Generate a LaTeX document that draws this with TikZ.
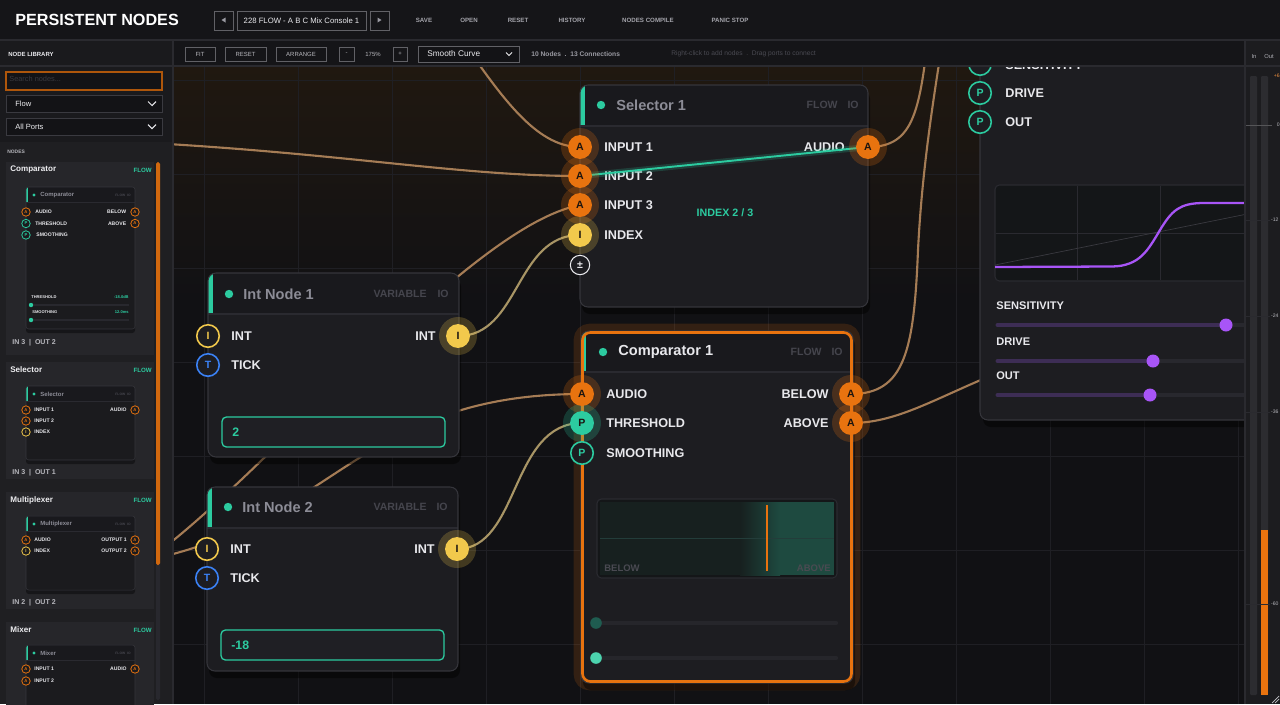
\documentclass[tikz,border=0pt]{standalone}
\usepackage{fontspec}
\setmainfont{Liberation Sans}
\usetikzlibrary{positioning,calc}

\definecolor{cBar}{HTML}{151518}
\definecolor{cLine}{HTML}{2A2A2F}
\definecolor{cCanvas}{HTML}{111114}
\definecolor{cGlow}{HTML}{201810}
\definecolor{cGrid}{HTML}{1F1F24}
\definecolor{cNode}{HTML}{1D1D21}
\definecolor{cHead}{HTML}{19191D}
\definecolor{cBorder}{HTML}{35353B}
\definecolor{cDivider}{HTML}{2A2A30}
\definecolor{cWhite}{HTML}{E8E8EC}
\definecolor{cTitleDim}{HTML}{8C8C96}
\definecolor{cTag}{HTML}{45454D}
\definecolor{cInk}{HTML}{1A1410}
\definecolor{cOrange}{HTML}{E8730F}
\definecolor{cYellow}{HTML}{F2C94C}
\definecolor{cTeal}{HTML}{2CCBA0}
\definecolor{cTealDark}{HTML}{1F5C50}
\definecolor{cBlue}{HTML}{3B82F6}
\definecolor{cPurple}{HTML}{A855F7}
\definecolor{cPurpleDim}{HTML}{3D2D55}
\definecolor{cTrackBg}{HTML}{28282E}
\definecolor{cWire}{HTML}{A57C55}
\definecolor{cWireY}{HTML}{A89565}
\definecolor{cValBg}{HTML}{1F1F24}
\definecolor{cDisp}{HTML}{141618}
\definecolor{cDispIn}{HTML}{17201F}
\definecolor{cDispTeal}{HTML}{1E4A40}
\definecolor{cSide}{HTML}{1A1A1D}
\definecolor{cSideLow}{HTML}{1F1F22}
\definecolor{cCard}{HTML}{26262A}
\definecolor{cMini}{HTML}{1B1B1E}
\definecolor{cField}{HTML}{131316}
\definecolor{cFieldLine}{HTML}{3A3A40}
\definecolor{cGray}{HTML}{9A9AA2}
\definecolor{cDim}{HTML}{4A4A52}
\definecolor{cMeter}{HTML}{1C1C1F}
\definecolor{cMeterBar}{HTML}{2C2C30}

\newcommand\fsz[1]{\fontsize{#1}{#1}\selectfont}
\newcommand\halo[2]{\fill[#1, opacity=.22] (#2) circle[radius=19];}
% node frame: x1, y1, x2, y2, header bottom
\newcommand\nodeframe[5]{%
  \fill[black, opacity=.45, rounded corners=4.5pt] (#1+2,#2+6) rectangle (#3+2,#4+7);
  \begin{scope}
    \clip[rounded corners=4.5pt] (#1,#2) rectangle (#3,#4);
    \fill[cNode] (#1,#2) rectangle (#3,#4);
    \fill[cHead] (#1,#2) rectangle (#3,#5);
    \fill[cTeal] (#1,#2) rectangle (#1+4.5,#5);
    \draw[cDivider, line width=.6pt] (#1,#5) -- (#3,#5);
  \end{scope}
  \draw[cBorder, line width=.6pt, rounded corners=4.5pt] (#1,#2) rectangle (#3,#4);}
% small library preview: x1, y1, x2, y2, title, name
\newcommand\mininode[6]{%
  \fill[black, opacity=.4, rounded corners=1.5pt] (#1,#2+3) rectangle (#3,#4+4);
  \begin{scope}
    \clip[rounded corners=1.5pt] (#1,#2) rectangle (#3,#4);
    \fill[cMini] (#1,#2) rectangle (#3,#4);
    \fill[cHead] (#1,#2) rectangle (#3,#2+15);
    \fill[cTeal] (#1,#2) rectangle (#1+2,#2+15);
    \draw[cDivider, line width=.3pt] (#1,#2+15) -- (#3,#2+15);
  \end{scope}
  \draw[cBorder, line width=.3pt, rounded corners=1.5pt] (#1,#2) rectangle (#3,#4);
  \fill[cTeal] (#1+8,#2+8) circle[radius=1.7];
  \node[mttl] (#6) at (#1+14,#2+8) {#5};
  \node[mtag] (#6-tag) at (#3-4,#2+8) {FLOW\ \ IO};}

\tikzset{
  ttl/.style={anchor=west, inner sep=0, font=\bfseries\fsz{8.3}, text=cTitleDim},
  tag/.style={anchor=east, inner sep=0, font=\bfseries\fsz{6}, text=cTag},
  lbl/.style={anchor=west, inner sep=0, font=\bfseries\fsz{7.2}, text=cWhite},
  lblr/.style={lbl, anchor=east},
  slbl/.style={anchor=west, inner sep=0, font=\bfseries\fsz{6.3}, text=cWhite},
  port/.style={circle, inner sep=0, minimum size=13.6pt, font=\bfseries\fsz{6}},
  porta/.style={port, fill=cOrange, text=cInk},
  portp/.style={port, fill=cTeal, text=cInk},
  porti/.style={port, fill=cYellow, text=cInk},
  ringp/.style={port, draw=cTeal, line width=.9pt, fill=cNode, text=cTeal, minimum size=12.8pt},
  ringi/.style={ringp, draw=cYellow, text=cYellow},
  ringt/.style={ringp, draw=cBlue, text=cBlue},
  addport/.style={circle, inner sep=0, minimum size=11pt, draw=cWhite!85, line width=.6pt, fill=cNode, text=cWhite, font=\bfseries\fsz{6}},
  wire/.style={draw=cWire, line width=1.2pt},
  wirey/.style={draw=cWireY, line width=1.2pt},
  valbox/.style={draw=cTeal, fill=cValBg, line width=.75pt, rounded corners=2.5pt},
  val/.style={anchor=west, inner sep=0, font=\bfseries\fsz{7}, text=cTeal},
  bartxt/.style={inner sep=0, font=\bfseries\fsz{3.5}, text=cGray!90},
  btn/.style={draw=cFieldLine!80, fill=cBar, line width=.5pt},
  btntxt/.style={inner sep=0, font=\fsz{3.4}, text=cGray!70},
  mttl/.style={anchor=west, inner sep=0, font=\bfseries\fsz{3.4}, text=cTitleDim},
  mtag/.style={anchor=east, inner sep=0, font=\bfseries\fsz{1.9}, text=cTag},
  mlbl/.style={anchor=west, inner sep=0, font=\bfseries\fsz{2.9}, text=cWhite},
  mlblr/.style={mlbl, anchor=east},
  mport/.style={circle, inner sep=0, minimum size=4.8pt, line width=.45pt, fill=cMini, font=\bfseries\fsz{2.4}},
  mporta/.style={mport, draw=cOrange, text=cOrange},
  mportp/.style={mport, draw=cTeal, text=cTeal},
  mporti/.style={mport, draw=cYellow, text=cYellow},
  cardttl/.style={anchor=west, inner sep=0, font=\bfseries\fsz{4.6}, text=cWhite!80},
  cardtag/.style={anchor=east, inner sep=0, font=\bfseries\fsz{3.5}, text=cTeal},
  cardfoot/.style={anchor=west, inner sep=0, font=\bfseries\fsz{4}, text=cGray!70},
  mtick/.style={anchor=east, inner sep=0, font=\fsz{2.9}, text=cGray!70}
}

\begin{document}
\begin{tikzpicture}[x=0.02cm, y=-0.02cm]
\useasboundingbox (0,0) rectangle (1280,704);

% ---- canvas ----
\begin{scope}
  \clip (173,66) rectangle (1245,704);
  \fill[cCanvas] (173,66) rectangle (1245,704);
  \shade[top color=cGlow, bottom color=cCanvas] (173,66) rectangle (1245,300);
  \foreach \x in {204,298,...,1240} \draw[cGrid, line width=.45pt] (\x,66) -- (\x,704);
  \foreach \y in {80,174,...,700} \draw[cGrid, line width=.45pt] (173,\y) -- (1245,\y);

  % port positions
  \coordinate (sel-in1) at (580,147);
  \coordinate (sel-in2) at (580,176);
  \coordinate (sel-in3) at (580,205);
  \coordinate (sel-idx) at (580,235);
  \coordinate (sel-out) at (868,147);
  \coordinate (cmp-aud) at (582,394);
  \coordinate (cmp-thr) at (582,423);
  \coordinate (cmp-smo) at (582,453);
  \coordinate (cmp-bel) at (851,394);
  \coordinate (cmp-abv) at (851,423);
  \coordinate (int1-in) at (208,336);
  \coordinate (int1-tick) at (208,365);
  \coordinate (int1-out) at (458,336);
  \coordinate (int2-in) at (207,549);
  \coordinate (int2-tick) at (207,578);
  \coordinate (int2-out) at (457,549);
  \coordinate (shp-sens) at (980,64);
  \coordinate (shp-drive) at (980,93);
  \coordinate (shp-out) at (980,122);
  % off-screen ends
  \coordinate (src-top) at (455,30);
  \coordinate (src-left) at (90,140);
  \coordinate (src-a) at (100,585);
  \coordinate (src-b) at (60,570);
  \coordinate (dst-top1) at (930,20);
  \coordinate (dst-top2) at (946,20);
  \coordinate (dst-shp) at (1010,368);

  % wires
  \draw[wire] (src-top) .. controls (500,95) and (535,147) .. (sel-in1);
  \draw[wire] (src-left) .. controls (330,150) and (450,176) .. (sel-in2);
  \draw[wire] (src-a) .. controls (200,560) and (450,230) .. (sel-in3);
  \draw[wire] (src-b) .. controls (330,560) and (330,394) .. (cmp-aud);
  \draw[wirey] (int1-out) .. controls (520,336) and (515,235) .. (sel-idx);
  \draw[wirey] (int2-out) .. controls (520,549) and (510,423) .. (cmp-thr);
  \draw[wire] (sel-out) .. controls (915,147) and (920,110) .. (dst-top1);
  \draw[wire] (cmp-bel) .. controls (905,394) and (914,350) .. (918,250)
    .. controls (922,170) and (933,100) .. (dst-top2);
  \draw[wire] (cmp-abv) .. controls (900,423) and (940,395) .. (dst-shp);

  % Selector 1
  \nodeframe{580}{85}{868}{307}{126}
  \fill[cTeal] (601,105) circle[radius=4.2];
  \node[ttl] (sel-title) at (616,105) {Selector 1};
  \node[tag] (sel-flow) at (838,105) {FLOW};
  \node[tag] (sel-io) at (859,105) {IO};
  \node[lbl] (sel-l1) at (604,147) {INPUT 1};
  \node[lbl] (sel-l2) at (604,176) {INPUT 2};
  \node[lbl] (sel-l3) at (604,205) {INPUT 3};
  \node[lbl] (sel-l4) at (604,235) {INDEX};
  \node[lblr] (sel-r1) at (845,147) {AUDIO};
  \node[inner sep=0, font=\bfseries\fsz{6.1}, text=cTeal] (sel-index) at (725,213) {INDEX 2 / 3};
  \draw[cTeal, opacity=.2, line width=3.5pt] (sel-in2) -- (sel-out);
  \draw[cTeal, line width=1.1pt] (sel-in2) -- (sel-out);
  \halo{cOrange}{sel-in1}
  \halo{cOrange}{sel-in2}
  \halo{cOrange}{sel-in3}
  \halo{cYellow}{sel-idx}
  \halo{cOrange}{sel-out}
  \node[porta] (p-sel-in1) at (sel-in1) {A};
  \node[porta] (p-sel-in2) at (sel-in2) {A};
  \node[porta] (p-sel-in3) at (sel-in3) {A};
  \node[porti] (p-sel-idx) at (sel-idx) {I};
  \node[porta] (p-sel-out) at (sel-out) {A};
  \node[addport] (p-sel-add) at (580,265) {±};

  % Int Node 1
  \nodeframe{208}{273}{459}{457}{314}
  \fill[cTeal] (229,294) circle[radius=4.2];
  \node[ttl] (int1-title) at (243,294) {Int Node 1};
  \node[tag] (int1-var) at (427,294) {VARIABLE};
  \node[tag] (int1-io) at (449,294) {IO};
  \node[lbl] (int1-l1) at (231,336) {INT};
  \node[lbl] (int1-l2) at (231,365) {TICK};
  \node[lblr] (int1-r1) at (436,336) {INT};
  \draw[valbox] (222,417) rectangle (445,447);
  \node[val] (int1-val) at (232,432) {2};
  \halo{cYellow}{int1-out}
  \node[ringi] (p-int1-in) at (int1-in) {I};
  \node[ringt] (p-int1-tick) at (int1-tick) {T};
  \node[porti] (p-int1-out) at (int1-out) {I};

  % Int Node 2
  \nodeframe{207}{487}{458}{671}{528}
  \fill[cTeal] (228,507) circle[radius=4.2];
  \node[ttl] (int2-title) at (242,507) {Int Node 2};
  \node[tag] (int2-var) at (427,507) {VARIABLE};
  \node[tag] (int2-io) at (448,507) {IO};
  \node[lbl] (int2-l1) at (230,549) {INT};
  \node[lbl] (int2-l2) at (230,578) {TICK};
  \node[lblr] (int2-r1) at (435,549) {INT};
  \draw[valbox] (221,630) rectangle (444,660);
  \node[val] (int2-val) at (231,645) {-18};
  \halo{cYellow}{int2-out}
  \node[ringi] (p-int2-in) at (int2-in) {I};
  \node[ringt] (p-int2-tick) at (int2-tick) {T};
  \node[porti] (p-int2-out) at (int2-out) {I};

  % Comparator 1 (selected)
  \draw[cOrange, opacity=.16, line width=6pt, rounded corners=6pt] (579,329) rectangle (855,685);
  \nodeframe{581}{331}{853}{683}{372}
  \draw[cOrange, line width=1.5pt, rounded corners=4.5pt] (582.5,332.5) rectangle (851.5,681.5);
  \fill[cTeal] (603,352) circle[radius=4.2];
  \node[ttl, text=cWhite] (cmp-title) at (618,352) {Comparator 1};
  \node[tag] (cmp-flow) at (822,352) {FLOW};
  \node[tag] (cmp-io) at (843,352) {IO};
  \node[lbl] (cmp-l1) at (606,394) {AUDIO};
  \node[lbl] (cmp-l2) at (606,423) {THRESHOLD};
  \node[lbl] (cmp-l3) at (606,453) {SMOOTHING};
  \node[lblr] (cmp-r1) at (829,394) {BELOW};
  \node[lblr] (cmp-r2) at (829,423) {ABOVE};
  \fill[cDisp, draw=cDivider, line width=.6pt, rounded corners=2.5pt] (597,499) rectangle (837,578);
  \fill[cDispIn] (600,502) rectangle (834,575);
  \shade[left color=cDispIn, right color=cDispTeal] (740,502) rectangle (780,575);
  \fill[cDispTeal] (780,502) rectangle (834,575);
  \draw[cDispTeal!60!cDivider, line width=.3pt] (600,538) -- (834,538);
  \draw[cOrange, line width=.8pt] (767,505) -- (767,571);
  \node[anchor=west, inner sep=0, font=\bfseries\fsz{5.4}, text=cDim] (cmp-dbelow) at (604,568) {BELOW};
  \node[anchor=east, inner sep=0, font=\bfseries\fsz{5.4}, text=cDim] (cmp-dabove) at (831,568) {ABOVE};
  \draw[cTrackBg!80!cNode, line width=2.4pt, line cap=round] (600,623) -- (836,623);
  \draw[cTrackBg!80!cNode, line width=2.4pt, line cap=round] (600,658) -- (836,658);
  \fill[cTealDark] (596,623) circle[radius=5.8];
  \fill[cTeal!85!white] (596,658) circle[radius=5.8];
  \halo{cOrange}{cmp-aud}
  \halo{cTeal}{cmp-thr}
  \halo{cOrange}{cmp-bel}
  \halo{cOrange}{cmp-abv}
  \node[porta] (p-cmp-aud) at (cmp-aud) {A};
  \node[portp] (p-cmp-thr) at (cmp-thr) {P};
  \node[ringp] (p-cmp-smo) at (cmp-smo) {P};
  \node[porta] (p-cmp-bel) at (cmp-bel) {A};
  \node[porta] (p-cmp-abv) at (cmp-abv) {A};

  % shaper node, partly hidden
  \fill[black, opacity=.45, rounded corners=4.5pt] (983,-40) rectangle (1290,427);
  \fill[cNode, draw=cBorder, line width=.6pt, rounded corners=4.5pt] (980,-40) rectangle (1290,420);
  \node[lbl] (shp-l1) at (1005,65) {SENSITIVITY};
  \node[lbl] (shp-l2) at (1005,93) {DRIVE};
  \node[lbl] (shp-l3) at (1005,122) {OUT};
  \node[ringp] (p-shp-sens) at (shp-sens) {P};
  \node[ringp] (p-shp-drive) at (shp-drive) {P};
  \node[ringp] (p-shp-out) at (shp-out) {P};
  \fill[cDisp, draw=cDivider, line width=.6pt, rounded corners=2.5pt] (995,185) rectangle (1262,281);
  \draw[cDivider, line width=.4pt] (1077,186) -- (1077,280) (1160,186) -- (1160,280) (996,233) -- (1261,233);
  \draw[cFieldLine, line width=.4pt] (995,265) -- (1262,211);
  \draw[cPurple, line width=1.3pt] (995,267) -- (1112,266.5)
    .. controls (1140,266) and (1148,250) .. (1160,230)
    .. controls (1172,210) and (1180,203.5) .. (1202,203) -- (1262,203);
  \foreach \y/\k/\t [count=\i] in {306/1226/SENSITIVITY, 342/1153/DRIVE, 376/1150/OUT} {
    \node[slbl] (shp-s\i) at (996,\y) {\t};
    \draw[cTrackBg, line width=2.8pt, line cap=round] (998,\y+19) -- (1262,\y+19);
    \draw[cPurpleDim, line width=2.8pt, line cap=round] (998,\y+19) -- (\k,\y+19);
    \fill[cPurple] (\k,\y+19) circle[radius=6.5];
  }
\end{scope}

% ---- top bar ----
\fill[cBar] (0,0) rectangle (1280,40);
\draw[cLine, line width=.6pt] (0,40) -- (1280,40);
\node[anchor=west, inner sep=0, font=\bfseries\fsz{9.2}, text=white] (app-title) at (15,20) {PERSISTENT NODES};
\draw[btn] (214,11) rectangle (233,30);
\fill[cGray] (225.5,17.5) -- (225.5,22.5) -- (221.5,20) -- cycle;
\draw[btn] (237,11) rectangle (366,30);
\node[inner sep=0, font=\fsz{4.4}, text=cWhite!85] (patch) at (301.5,20.5) {228 FLOW - A B C Mix Console 1};
\draw[btn] (370,11) rectangle (389,30);
\fill[cGray] (377.5,17.5) -- (377.5,22.5) -- (381.5,20) -- cycle;
\foreach \x/\t [count=\i] in {424/SAVE, 469/OPEN, 518/RESET, 572/HISTORY, 648/NODES COMPILE, 730/PANIC STOP}
  \node[bartxt] (menu-\i) at (\x,20.5) {\t};

% ---- toolbar ----
\fill[cBar] (0,41) rectangle (1280,66);
\draw[cLine, line width=.6pt] (0,66) -- (1280,66);
\draw[btn] (185,47) rectangle (215,61);
\node[btntxt] (tb-fit) at (200,54) {FIT};
\draw[btn] (225,47) rectangle (266,61);
\node[btntxt] (tb-reset) at (245.5,54) {RESET};
\draw[btn] (276,47) rectangle (326,61);
\node[btntxt] (tb-arrange) at (301,54) {ARRANGE};
\draw[btn] (339,47) rectangle (354,61);
\node[btntxt] (tb-minus) at (346.5,54) {-};
\node[btntxt] (tb-zoom) at (373,54) {175\%};
\draw[btn] (393,47) rectangle (407,61);
\node[btntxt] (tb-plus) at (400,54) {+};
\draw[btn, fill=cField] (418,46) rectangle (519,62);
\node[anchor=west, inner sep=0, font=\fsz{4.7}, text=cWhite!85] (tb-curve) at (427,54) {Smooth Curve};
\draw[cWhite!80, line width=.55pt] (506,52.5) -- (509,55.5) -- (512,52.5);
\node[anchor=west, inner sep=0, font=\bfseries\fsz{3.8}, text=cGray] (tb-count) at (531,54) {10 Nodes\ \ .\ \ 13 Connections};
\node[anchor=west, inner sep=0, font=\fsz{3.8}, text=cDim] (tb-hint) at (671,54) {Right-click to add nodes\ \ .\ \ Drag ports to connect};

% ---- level meter ----
\fill[cMeter] (1245,41) rectangle (1280,704);
\draw[cLine, line width=.6pt] (1245,41) -- (1245,704);
\draw[cLine, line width=.6pt] (1245,66) -- (1280,66);
\node[inner sep=0, font=\fsz{3.3}, text=cGray!80] (m-in) at (1254,56) {In};
\node[inner sep=0, font=\fsz{3.3}, text=cGray!80] (m-out) at (1269,56) {Out};
\fill[cMeterBar, rounded corners=.6pt] (1250,76) rectangle (1257,695);
\fill[cMeterBar, rounded corners=.6pt] (1261,76) rectangle (1268,695);
\fill[cOrange] (1261,530) rectangle (1268,695);
\draw[cLine!80!white, line width=.5pt] (1246,125) -- (1272,125);
\foreach \y/\t [count=\i] in {220/-12, 316/-24, 412/-36, 604/-60}
  \draw[cLine, line width=.4pt] (1246,\y) -- (1270,\y) node[mtick, anchor=west, xshift=.4pt] (mt-\i) {\t};
\node[mtick, text=cOrange!80] (mt-top) at (1280,76) {+6};
\node[mtick] (mt-0) at (1280,125) {0};
\draw[cGray!60, line width=.4pt] (1272,703) -- (1279,696) (1275,703) -- (1279,699);

% ---- node library ----
\fill[cSide] (0,41) rectangle (173,704);
\fill[cSideLow] (0,142) rectangle (173,704);
\draw[cLine, line width=.6pt] (173,41) -- (173,704);
\draw[cLine, line width=.6pt] (0,66) -- (173,66);
\node[anchor=west, inner sep=0, font=\bfseries\fsz{3.4}, text=cWhite!85] (lib-title) at (8,54) {NODE LIBRARY};
\draw[cOrange!75!black, fill=cField, line width=.6pt] (6,72) rectangle (162,90);
\node[anchor=west, inner sep=0, font=\fsz{4.2}, text=cFieldLine] (lib-search) at (9,79) {Search nodes...};
\draw[cFieldLine, fill=cField, line width=.5pt] (6,95) rectangle (162,112);
\node[anchor=west, inner sep=0, font=\fsz{4.3}, text=cWhite!75] (lib-flow) at (15,103.5) {Flow};
\draw[cWhite!85, line width=.6pt] (148,101.5) -- (152,105.5) -- (156,101.5);
\draw[cFieldLine, fill=cField, line width=.5pt] (6,118) rectangle (162,135);
\node[anchor=west, inner sep=0, font=\fsz{4.3}, text=cWhite!75] (lib-ports) at (15,126.5) {All Ports};
\draw[cWhite!85, line width=.6pt] (148,124.5) -- (152,128.5) -- (156,124.5);
\node[anchor=west, inner sep=0, font=\bfseries\fsz{2.8}, text=cGray!70] (lib-nodes) at (7,152) {NODES};
\fill[cTrackBg, rounded corners=1pt] (156,162) rectangle (160,700);
\fill[cOrange!90!black, rounded corners=1pt] (156,162) rectangle (160,565);

\foreach \y/\h/\t [count=\i] in {162/193/Comparator, 362/117/Selector, 492/117/Multiplexer, 622/100/Mixer} {
  \fill[cCard] (6,\y) rectangle (154,\y+\h);
  \node[cardttl] (card-\i) at (10,\y+8) {\t};
  \node[cardtag] (card-tag-\i) at (152,\y+8) {FLOW};
}
\foreach \y/\t [count=\i] in {343/IN 3\ \ |\ \ OUT 2, 473/IN 3\ \ |\ \ OUT 1, 603/IN 2\ \ |\ \ OUT 2}
  \node[cardfoot] (card-foot-\i) at (12,\y) {\t};

% comparator preview
\mininode{26}{187}{135}{329}{Comparator}{mini-cmp}
\node[mporta] (mp-cmp-1) at (26,212) {A};
\node[mportp] (mp-cmp-2) at (26,223.5) {P};
\node[mportp] (mp-cmp-3) at (26,235) {P};
\node[mporta] (mp-cmp-4) at (135,212) {A};
\node[mporta] (mp-cmp-5) at (135,223.5) {A};
\node[mlbl] (ml-cmp-1) at (35,212) {AUDIO};
\node[mlbl] (ml-cmp-2) at (35,223.5) {THRESHOLD};
\node[mlbl] (ml-cmp-3) at (36,235) {SMOOTHING};
\node[mlblr] (ml-cmp-4) at (126.5,212) {BELOW};
\node[mlblr] (ml-cmp-5) at (126.5,223.5) {ABOVE};
\node[mlbl, font=\bfseries\fsz{2.3}] (ml-cmp-6) at (31,297) {THRESHOLD};
\node[mlblr, font=\bfseries\fsz{2.3}, text=cTeal] (ml-cmp-7) at (129,297) {-18.0dB};
\draw[cTrackBg, line width=.6pt] (31,305) -- (129,305);
\fill[cTeal] (31,305) circle[radius=2.2];
\node[mlbl, font=\bfseries\fsz{2.3}] (ml-cmp-8) at (32,312) {SMOOTHING};
\node[mlblr, font=\bfseries\fsz{2.3}, text=cTeal] (ml-cmp-9) at (129,312) {12.0ms};
\draw[cTrackBg, line width=.6pt] (31,320) -- (129,320);
\fill[cTeal] (31,320) circle[radius=2.2];

% selector preview
\mininode{26}{386}{135}{460}{Selector}{mini-sel}
\node[mporta] (mp-sel-1) at (26,410) {A};
\node[mporta] (mp-sel-2) at (26,421) {A};
\node[mporti] (mp-sel-3) at (26,432) {I};
\node[mporta] (mp-sel-4) at (135,410) {A};
\node[mlbl] (ml-sel-1) at (34,410) {INPUT 1};
\node[mlbl] (ml-sel-2) at (34,421) {INPUT 2};
\node[mlbl] (ml-sel-3) at (34,432) {INDEX};
\node[mlblr] (ml-sel-4) at (127,410) {AUDIO};

% multiplexer preview
\mininode{26}{516}{135}{590}{Multiplexer}{mini-mux}
\node[mporta] (mp-mux-1) at (26,540) {A};
\node[mporti] (mp-mux-2) at (26,551) {I};
\node[mporta] (mp-mux-3) at (135,540) {A};
\node[mporta] (mp-mux-4) at (135,551) {A};
\node[mlbl] (ml-mux-1) at (34,540) {AUDIO};
\node[mlbl] (ml-mux-2) at (34,551) {INDEX};
\node[mlblr] (ml-mux-3) at (127,540) {OUTPUT 1};
\node[mlblr] (ml-mux-4) at (127,551) {OUTPUT 2};

% mixer preview
\mininode{26}{645}{135}{715}{Mixer}{mini-mix}
\node[mporta] (mp-mix-1) at (26,669) {A};
\node[mporta] (mp-mix-2) at (26,681) {A};
\node[mporta] (mp-mix-3) at (135,669) {A};
\node[mlbl] (ml-mix-1) at (34,669) {INPUT 1};
\node[mlbl] (ml-mix-2) at (34,681) {INPUT 2};
\node[mlblr] (ml-mix-3) at (127,669) {AUDIO};
\end{tikzpicture}
\end{document}
